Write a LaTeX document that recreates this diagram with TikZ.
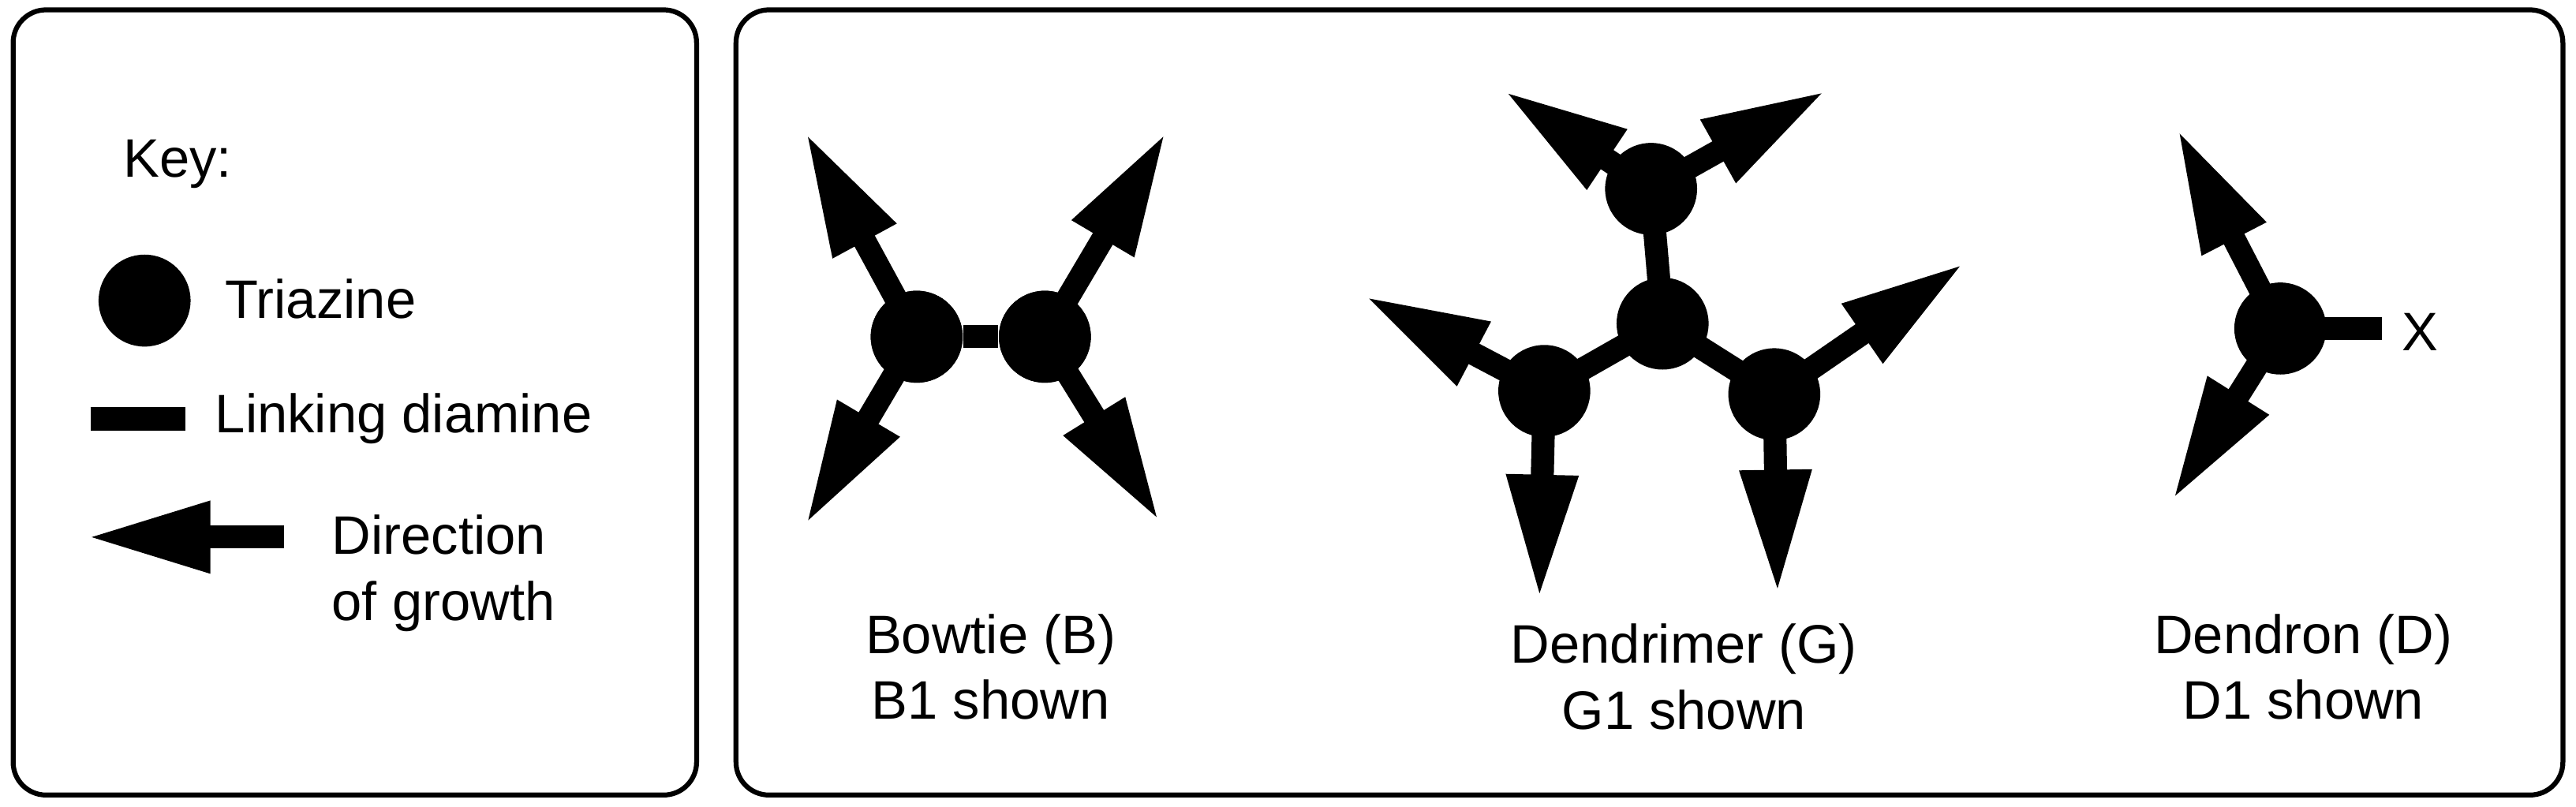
\documentclass[tikz,border=0pt]{standalone}
\usepackage{fontspec}
\setmainfont{Liberation Sans}
\usetikzlibrary{arrows.meta}
\begin{document}
\begin{tikzpicture}[x=0.5pt,y=-0.5pt,
  box/.style={draw,line width=1.5pt,rounded corners=10pt},
  tri/.style={circle,fill=black,minimum size=28pt,inner sep=0pt},
  link/.style={line width=7pt},
  growarrow/.style={line width=7pt,-{Triangle[length=38pt,width=20pt]}},
  lbl/.style={font=\fontsize{16.5}{20}\selectfont,align=center}]
\useasboundingbox (0,0) rectangle (1568,491);
\draw[box] (8,6) rectangle (424,484);
\draw[box] (448,6) rectangle (1560,484);
% key
\node[lbl,anchor=west] (key) at (68,100) {Key:};
\node[tri] (kt) at (88,183) {};
\node[lbl,anchor=west] (ktl) at (130,182) {Triazine};
\coordinate (kl1) at (55,255); \coordinate (kl2) at (113,255);
\draw[link] (kl1) -- (kl2);
\node[lbl,anchor=west] (kll) at (124,255) {Linking diamine};
\coordinate (ka1) at (173,327); \coordinate (ka2) at (52,327);
\draw[growarrow] (ka1) -- (ka2);
\node[lbl,anchor=west,align=left] (kal) at (195,349) {Direction\\of growth};
% bowtie
\node[tri] (b1) at (558,205) {};
\node[tri] (b2) at (636,205) {};
\coordinate (bt1) at (490,80); \coordinate (bt2) at (490,320);
\coordinate (bt3) at (710,80); \coordinate (bt4) at (706,318);
\draw[growarrow] (b1.center) -- (bt1);
\draw[growarrow] (b1.center) -- (bt2);
\draw[growarrow] (b2.center) -- (bt3);
\draw[growarrow] (b2.center) -- (bt4);
\draw[link] (b1) -- (b2);
\node[tri] at (b1) {}; \node[tri] at (b2) {};
\node[lbl] (bl) at (603,406) {Bowtie (B)\\B1 shown};
% dendrimer
\coordinate (gc) at (1012,197);
\coordinate (gt) at (1005,115);
\coordinate (gl) at (940,238);
\coordinate (gr) at (1080,240);
\coordinate (gt1) at (915,55); \coordinate (gt2) at (1112,55);
\coordinate (gl1) at (830,180); \coordinate (gl2) at (937,365);
\coordinate (gr1) at (1196,160); \coordinate (gr2) at (1082,362);
\draw[growarrow] (gt) -- (gt1);
\draw[growarrow] (gt) -- (gt2);
\draw[growarrow] (gl) -- (gl1);
\draw[growarrow] (gl) -- (gl2);
\draw[growarrow] (gr) -- (gr1);
\draw[growarrow] (gr) -- (gr2);
\draw[link] (gc) -- (gt);
\draw[link] (gc) -- (gl);
\draw[link] (gc) -- (gr);
\node[tri] (g0) at (gc) {};
\node[tri] (g1) at (gt) {};
\node[tri] (g2) at (gl) {};
\node[tri] (g3) at (gr) {};
\node[lbl] (gla) at (1025,412) {Dendrimer (G)\\G1 shown};
% dendron
\coordinate (dc) at (1388,200);
\coordinate (dt1) at (1325,78); \coordinate (dt2) at (1322,305);
\coordinate (dx) at (1450,200);
\draw[growarrow] (dc) -- (dt1);
\draw[growarrow] (dc) -- (dt2);
\draw[link] (dc) -- (dx);
\node[tri] (d0) at (dc) {};
\node[lbl,anchor=west] (dxl) at (1455,202) {X};
\node[lbl] (dl) at (1402,406) {Dendron (D)\\D1 shown};
\end{tikzpicture}
\end{document}
